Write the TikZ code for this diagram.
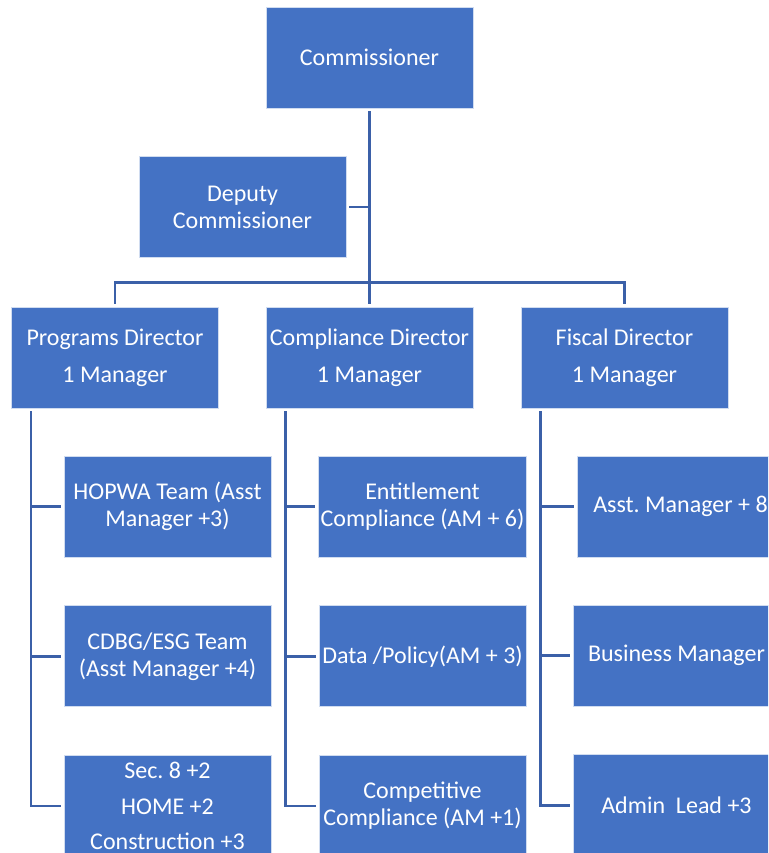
\documentclass[tikz,border=0pt]{standalone}
\usepackage{fontspec}
\setmainfont{Carlito}
\usetikzlibrary{positioning,calc}
\definecolor{boxblue}{HTML}{4472C4}
\definecolor{linkblue}{RGB}{59,96,168}

\begin{document}
\begin{tikzpicture}[x=1pt,y=1pt,
    box/.style={rectangle, fill=boxblue, draw=white!75!boxblue, line width=0.8pt,
        text=white, minimum width=207pt, minimum height=101pt, inner sep=2pt,
        align=center, font=\fontsize{24}{27}\selectfont},
    link/.style={draw=linkblue, line width=2.6pt, shorten <=3pt, shorten >=3pt}]
        \def\gap{48pt}
        \def\spine{20}
        \useasboundingbox (0,0) rectangle (768,-853);
        \clip (0,0) rectangle (768,-853);
        % top of the chart
        \node[box] (comm) at (369.5,-57.5) {Commissioner};
        \node[box] (dep) at (242.5,-207) {Deputy\\Commissioner};
        % directors
        \node[box] (prog) at (115,-357.5) {Programs Director\\[10pt]1 Manager};
        \node[box] (compl) at (369.5,-357.5) {Compliance Director\\[10pt]1 Manager};
        \node[box] (fisc) at (624.5,-357.5) {Fiscal Director\\[10pt]1 Manager};
        % teams
        \node[box] (hopwa) at (167.5,-506.5) {HOPWA Team (Asst\\Manager +3)};
        \node[box, below=\gap of hopwa] (cdbg) {CDBG/ESG Team\\(Asst Manager +4)};
        \node[box, below=\gap of cdbg] (sec) {Sec.\ 8 +2\\[8.5pt]HOME +2\\[8.5pt]Construction +3};
        \node[box] (entit) at (422.5,-506.5) {Entitlement\\Compliance (AM + 6)};
        \node[box, below=\gap of entit] (data) {Data /Policy(AM + 3)};
        \node[box, below=\gap of data] (compet) {Competitive\\Compliance (AM +1)};
        \node[box] (asst) at (680.5,-506.5) {Asst.\ Manager + 8};
        \node[box] (busi) at (676.5,-655.5) {Business Manager};
        \node[box, below=\gap of busi] (admin) {Admin~~Lead +3};
        % connectors
        \draw[link] (comm) -- (compl);
        \draw[link, shorten >=0pt] (dep.east) -- (dep.east -| comm.south);
        \draw[link] (prog.north) |- ($(compl.north)+(0,24)$) -| (fisc.north);
        \coordinate (progtop) at ($(prog.south west)+(\spine,0)$);
        \coordinate (compltop) at ($(compl.south west)+(\spine,0)$);
        \coordinate (fisctop) at ($(fisc.south west)+(\spine,0)$);
        \foreach \c in {hopwa,cdbg,sec}
            \draw[link] (progtop) |- (\c.west);
        \foreach \c in {entit,data,compet}
            \draw[link] (compltop) |- (\c.west);
        \foreach \c in {asst,busi,admin}
            \draw[link] (fisctop) |- (\c.west);
\end{tikzpicture}
\end{document}
